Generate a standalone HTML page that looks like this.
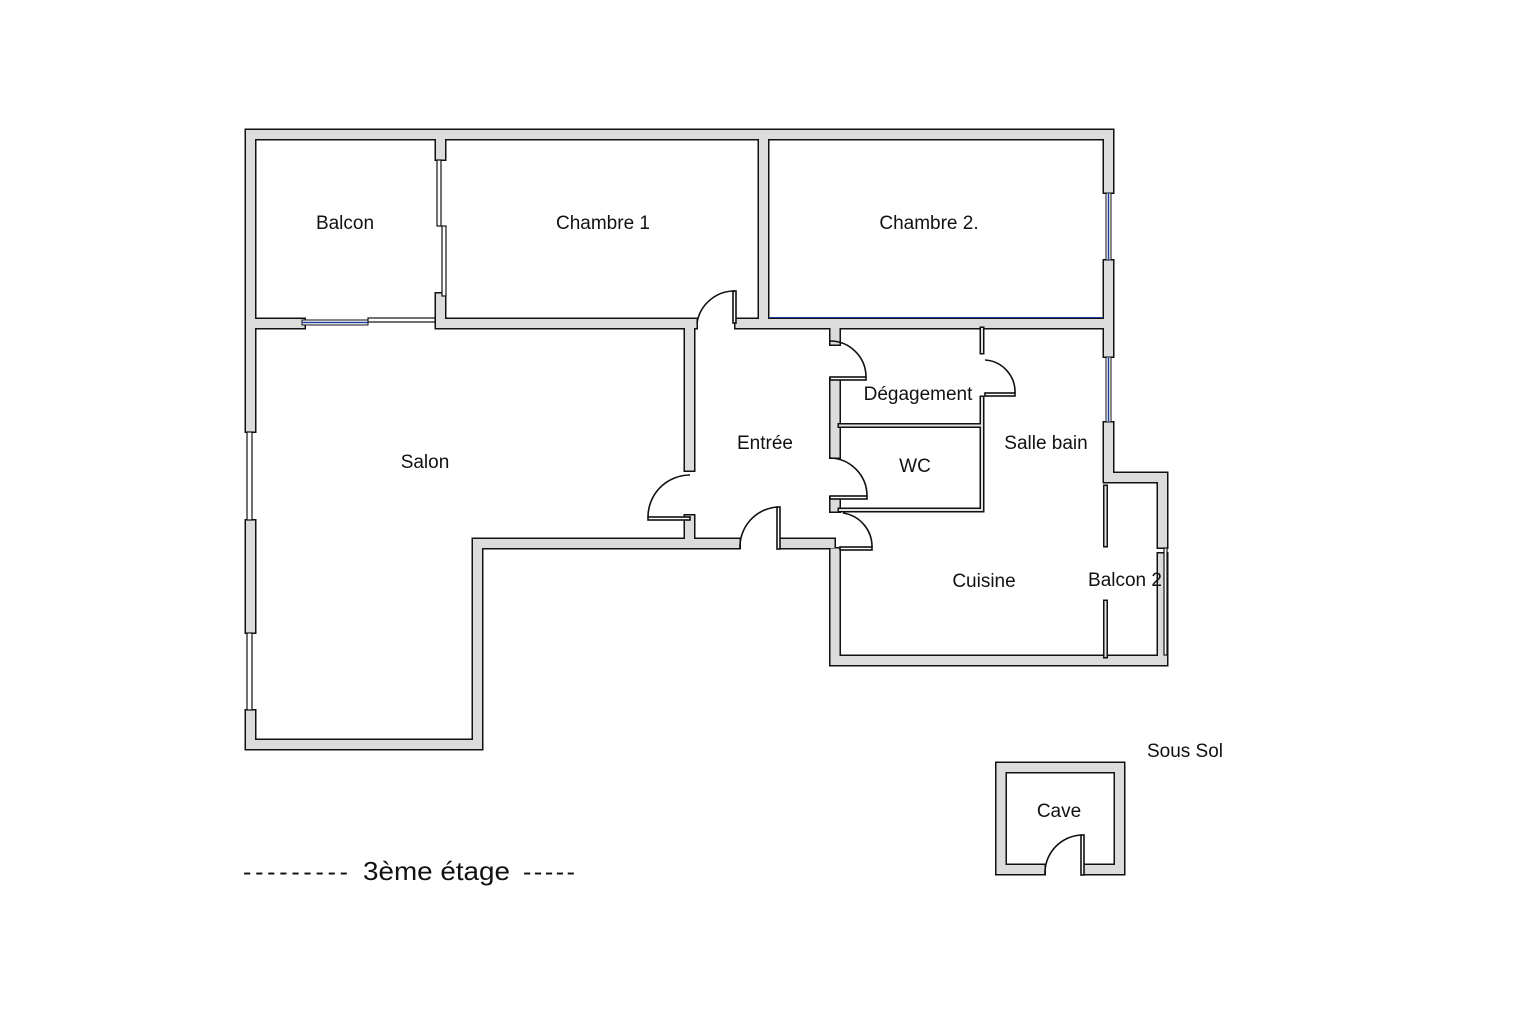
<!DOCTYPE html>
<html><head><meta charset="utf-8"><style>
body{margin:0;background:#fff}
svg{display:block}
text{font-family:"Liberation Sans",sans-serif;font-size:19px;fill:#111}
.b{fill:none;stroke:#111;stroke-width:12;stroke-linecap:square;stroke-linejoin:miter}
.g{fill:none;stroke:#dcdcdc;stroke-width:9;stroke-linecap:square;stroke-linejoin:miter}
.tb{fill:none;stroke:#111;stroke-width:5;stroke-linecap:square}
.tg{fill:none;stroke:#e2e2e2;stroke-width:2;stroke-linecap:square}
.d{fill:none;stroke:#111;stroke-width:1.6}
.w{fill:#fff;stroke:#111;stroke-width:1.2}
</style></head><body>
<svg width="1536" height="1024" viewBox="0 0 1536 1024">
<defs>
<g id="walls">
<path d="M300,323.5 H250.5 V134.5 H1108.5 V188"/>
<path d="M1108.5,265 V352"/>
<path d="M1108.5,427 V477.5 H1162.5 V543"/>
<path d="M440.5,134.5 V155"/>
<path d="M440.5,298 V323.5 H692"/>
<path d="M740,323.5 H1108.5"/>
<path d="M763.5,134.5 V323.5"/>
<path d="M250.5,323.5 V427"/>
<path d="M250.5,525 V628"/>
<path d="M250.5,715 V744.5 H477.5 V543.5 H689.5 V520"/>
<path d="M689.5,323.5 V466"/>
<path d="M689.5,543.5 H735"/>
<path d="M784,543.5 H830"/>
<path d="M835,323.5 V340"/>
<path d="M835,383 V453"/>
<path d="M835,502 V507"/>
<path d="M835,553 V660.5 H1162.5 V558"/>
<path d="M1001,767.5 H1119.5 V869.5 H1088"/>
<path d="M1040,869.5 H1001 V767.5"/>
</g>
<g id="thin">
<path d="M982,329 V352"/>
<path d="M982,398 V510 H840"/>
<path d="M840,425.5 H982"/>
<path d="M1105.5,487 V545"/>
<path d="M1105.5,602 V656"/>
</g>
</defs>
<use href="#walls" class="b"/>
<use href="#walls" class="g"/>
<use href="#thin" class="tb"/>
<use href="#thin" class="tg"/>
<rect class="w" x="437" y="160" width="4" height="66"/>
<rect class="w" x="442" y="226" width="4" height="70"/>
<rect x="302" y="320" width="66" height="5" fill="#fff" stroke="#111" stroke-width="1"/>
<line x1="302" y1="322.5" x2="368" y2="322.5" stroke="#2040a0" stroke-width="1.5"/>
<rect class="w" x="368" y="318" width="67" height="4"/>
<rect x="1106" y="193" width="5" height="67" fill="#fff" stroke="#111" stroke-width="1"/>
<line x1="1108.5" y1="193" x2="1108.5" y2="260" stroke="#2040a0" stroke-width="1.5"/>
<rect x="1106" y="357" width="5" height="65" fill="#fff" stroke="#111" stroke-width="1"/>
<line x1="1108.5" y1="357" x2="1108.5" y2="422" stroke="#2040a0" stroke-width="1.5"/>
<line x1="769" y1="317.5" x2="1103" y2="317.5" stroke="#2040a0" stroke-width="1"/>
<rect class="w" x="247" y="432" width="5" height="88"/>
<rect class="w" x="247" y="633" width="5" height="77"/>
<rect class="w" x="1164" y="548" width="3" height="107"/>
<g class="d">
<rect x="733" y="291" width="3" height="32" fill="#fff"/>
<path d="M697,323 A38,38 0 0 1 735,291"/>
<rect x="648" y="517" width="42" height="3" fill="#fff"/>
<path d="M648,517 A42,42 0 0 1 690,475"/>
<rect x="777" y="507" width="3" height="42" fill="#fff"/>
<path d="M740,549 A40,40 0 0 1 778,507"/>
<rect x="830" y="377" width="36" height="3" fill="#fff"/>
<path d="M866,377 A36,36 0 0 0 830,341"/>
<rect x="830" y="496" width="37" height="3" fill="#fff"/>
<path d="M867,496 A38,38 0 0 0 830,458"/>
<rect x="840" y="547" width="32" height="3" fill="#fff"/>
<path d="M872,547 A34,34 0 0 0 843,513"/>
<rect x="985" y="393" width="30" height="3" fill="#fff"/>
<path d="M1015,393 A32,32 0 0 0 985,360"/>
<rect x="1081" y="835" width="3" height="40" fill="#fff"/>
<path d="M1045,875 A38,38 0 0 1 1082,835"/>
</g>
<text x="345" y="229" text-anchor="middle">Balcon</text>
<text x="603" y="229" text-anchor="middle">Chambre 1</text>
<text x="929" y="229" text-anchor="middle">Chambre 2.</text>
<text x="425" y="468" text-anchor="middle">Salon</text>
<text x="765" y="449" text-anchor="middle">Entrée</text>
<text x="918" y="400" text-anchor="middle">Dégagement</text>
<text x="915" y="472" text-anchor="middle">WC</text>
<text x="1046" y="449" text-anchor="middle">Salle bain</text>
<text x="984" y="587" text-anchor="middle">Cuisine</text>
<text x="1125" y="586" text-anchor="middle">Balcon 2</text>
<text x="1059" y="817" text-anchor="middle">Cave</text>
<text x="1185" y="757" text-anchor="middle">Sous Sol</text>
<text x="243" y="880" style="font-size:25px" textLength="105" lengthAdjust="spacing">---------</text>
<text x="363" y="880" style="font-size:26px" textLength="147" lengthAdjust="spacingAndGlyphs">3ème étage</text>
<text x="523" y="880" style="font-size:25px" textLength="52" lengthAdjust="spacing">-----</text>
</svg>
</body></html>
